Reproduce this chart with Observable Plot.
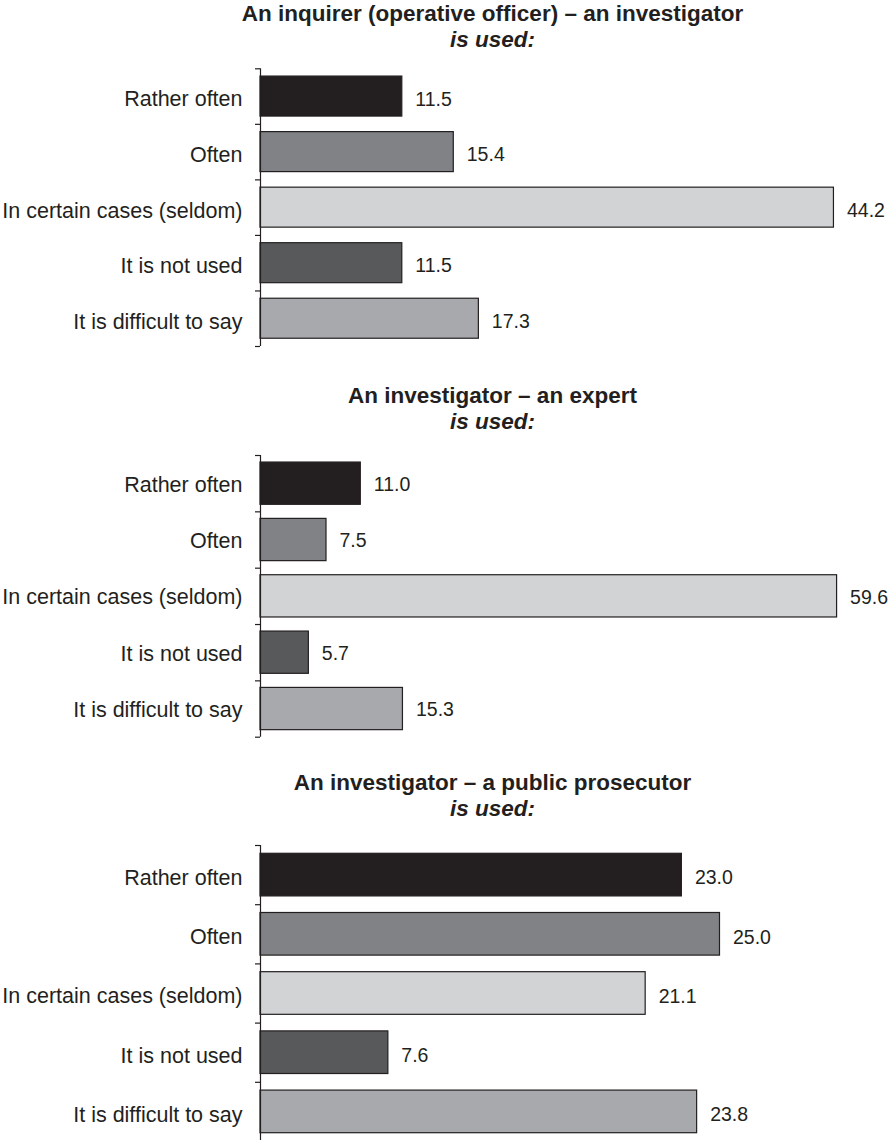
<!DOCTYPE html>
<html><head><meta charset="utf-8">
<script src="https://cdn.jsdelivr.net/npm/d3@7"></script>
<script src="https://cdn.jsdelivr.net/npm/@observablehq/plot@0.6"></script>
<style>
body{margin:0;background:#fff;font-family:"Liberation Sans",Arial,sans-serif;}
#chart svg{display:block;}
</style></head><body><div id="chart"></div>
<script>
const categories = ["Rather often","Often","In certain cases (seldom)","It is not used","It is difficult to say"];
const titles = ["An inquirer (operative officer) – an investigator","An investigator – an expert","An investigator – a public prosecutor"];
const subtitle = "is used:";
const valuesInquirerInvestigator = [11.5, 15.4, 44.2, 11.5, 17.3];
const valuesInvestigatorExpert = [11.0, 7.5, 59.6, 5.7, 15.3];
const valuesInvestigatorProsecutor = [23.0, 25.0, 21.1, 7.6, 23.8];
const colors = ["#231f20","#808285","#d1d3d4","#58595b","#a7a9ac"];

const AXIS_X = 260, TITLE_CX = 492;
const panels = [
  {title: titles[0], values: valuesInquirerInvestigator, height: 380, titleY: 20, subY: 46, textDy: 3, yRange: [68.3, 346], zero: 250, k: 13.2, pad: 0.14},
  {title: titles[1], values: valuesInvestigatorExpert, height: 390, titleY: 22, subY: 48, textDy: 1, yRange: [75, 356.7], zero: 252.5, k: 9.8, pad: 0.125},
  {title: titles[2], values: valuesInvestigatorProsecutor, height: 370, titleY: 19, subY: 45, textDy: 3, yRange: [75, 371], zero: 243, k: 19.06, pad: 0.14}
];

const root = document.getElementById("chart");
for (const p of panels) {
  const data = categories.map((c, i) => ({category: c, value: p.values[i], i, color: colors[i]}));
  const origin = (AXIS_X - p.zero) / p.k; // value at which the axis line sits
  const D = 64;
  const chart = Plot.plot({
    width: 891,
    height: p.height,
    marginLeft: AXIS_X, marginRight: 0, marginTop: 0, marginBottom: 0,
    style: {fontFamily: "'Liberation Sans', Arial, sans-serif", color: "#231f20", background: "#fff"},
    x: {domain: [origin, D], range: [AXIS_X, p.zero + p.k * D], axis: null},
    y: {domain: [0, 5], range: p.yRange, axis: null},
    color: {type: "identity"},
    marks: [
      Plot.rect(data, {x1: () => origin, x2: "value", y1: d => d.i + p.pad, y2: d => d.i + 1 - p.pad,
        fill: "color", stroke: "#231f20", strokeWidth: 1.2}),
      Plot.ruleX([origin], {y1: 0, y2: 5, stroke: "#231f20", strokeWidth: 1.2}),
      Plot.axisY({ticks: d3.range(6), tickFormat: () => "", tickSize: 5, anchor: "left", stroke: "#231f20", strokeWidth: 1.2}),
      Plot.text(data, {x: () => origin, y: d => d.i + 0.5, text: "category", textAnchor: "end", dx: -18, dy: p.textDy, fontSize: 21.5, fill: "#231f20"}),
      Plot.text(data, {x: "value", y: d => d.i + 0.5, text: d => d.value.toFixed(1), textAnchor: "start", dx: 13, dy: p.textDy, fontSize: 19.5, fill: "#231f20"}),
      Plot.text([p.title], {frameAnchor: "top-left", dx: TITLE_CX - AXIS_X, dy: p.titleY, lineAnchor: "bottom", textAnchor: "middle", fontWeight: "bold", fontSize: 22.5, fill: "#231f20"}),
      Plot.text([subtitle], {frameAnchor: "top-left", dx: TITLE_CX - AXIS_X, dy: p.subY, lineAnchor: "bottom", textAnchor: "middle", fontWeight: "bold", fontStyle: "italic", fontSize: 22.5, fill: "#231f20"})
    ]
  });
  root.appendChild(chart);
}
</script></body></html>
